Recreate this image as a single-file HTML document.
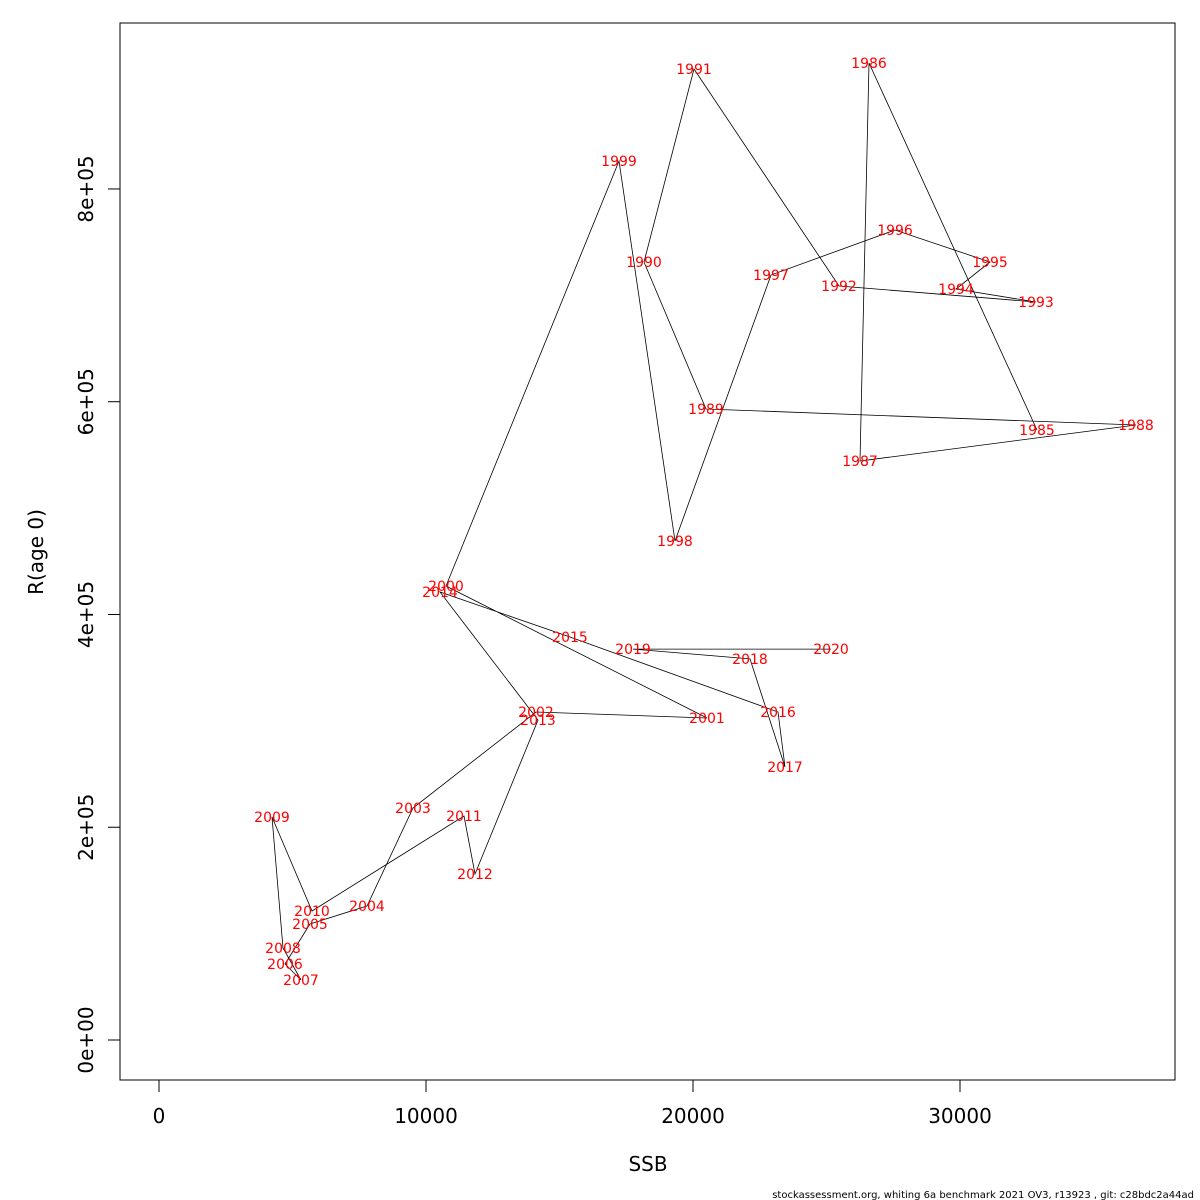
<!DOCTYPE html>
<html><head><meta charset="utf-8"><style>
html,body{margin:0;padding:0;background:#fff;}
svg{display:block;font-family:"DejaVu Sans","Liberation Sans",sans-serif;}
</style></head><body>
<svg id="chart" width="1200" height="1200">
<rect x="120" y="23" width="1055" height="1057" fill="none" stroke="#000"/>
<g id="axes"></g>
<g id="path"></g>
<g id="labels"></g>
<text x="648" y="1171" font-size="20" text-anchor="middle">SSB</text>
<text transform="translate(43,552) rotate(-90)" font-size="20" text-anchor="middle">R(age 0)</text>
<text x="1194" y="1198" font-size="10" text-anchor="end">stockassessment.org, whiting  6a  benchmark  2021  OV3, r13923 , git: c28bdc2a44ad</text>
</svg>
<script>
const years = [1985,1986,1987,1988,1989,1990,1991,1992,1993,1994,1995,1996,1997,1998,1999,2000,2001,2002,2003,2004,2005,2006,2007,2008,2009,2010,2011,2012,2013,2014,2015,2016,2017,2018,2019,2020];
const ssb = [32884,26592,26255,36592,20487,18165,20037,25468,32846,29850,31124,27566,22921,19326,17228,10749,20524,14120,9513,7790,5655,4719,5318,4644,4232,5730,11423,11835,14195,10524,15393,23184,23446,22135,17753,25169];
const recruits = [573400,918400,544300,578100,593200,731300,912800,708800,693700,706000,731300,761400,719100,469100,826300,426800,302700,308300,218100,126000,109000,71400,56400,86500,209600,121300,210600,156000,300800,421100,378800,308300,256600,358200,367500,367500];
const xTicks = [0,10000,20000,30000];
const yTicks = [0,200000,400000,600000,800000];
const yTickLabels = ["0e+00","2e+05","4e+05","6e+05","8e+05"];

const NS="http://www.w3.org/2000/svg";
function X(v){return 159+v*0.0267;}
function Y(v){return 1040-v*0.0010638;}
function mk(tag,attrs,parent){const e=document.createElementNS(NS,tag);for(const k in attrs)e.setAttribute(k,attrs[k]);parent.appendChild(e);return e;}
const axes=document.getElementById('axes');
const xl=mk('line',{x1:X(xTicks[0]),x2:X(xTicks[xTicks.length-1]),y1:1080,y2:1080,stroke:'#000'},axes);


xTicks.forEach(t=>{
  const l=mk('line',{x1:X(t),x2:X(t),y1:1080,y2:1092,stroke:'#000'},axes);
  
  
  const s=mk('text',{x:X(t),y:1123,'font-size':20,'text-anchor':'middle'},axes);s.textContent=t;
  
  
});
const yl=mk('line',{x1:120,x2:120,y1:Y(yTicks[0]),y2:Y(yTicks[yTicks.length-1]),stroke:'#000'},axes);


yTicks.forEach((t,i)=>{
  const l=mk('line',{x1:108,x2:120,y1:Y(t),y2:Y(t),stroke:'#000'},axes);
  
  
  const s=mk('text',{transform:`translate(93,${Y(t)}) rotate(-90)`,'font-size':20,'text-anchor':'middle'},axes);s.textContent=yTickLabels[i];
  
  
});
const pts=ssb.map((v,i)=>X(v).toFixed(1)+','+Y(recruits[i]).toFixed(1)).join(' ');
const pl=mk('polyline',{points:pts,fill:'none',stroke:'#000','stroke-width':0.8},document.getElementById('path'));


const lab=document.getElementById('labels');
years.forEach((yr,i)=>{
  const t=mk('text',{x:X(ssb[i]),y:Y(recruits[i])+5,'font-size':14,fill:'#ff0000','text-anchor':'middle'},lab);
  t.textContent=yr;
  
  
});
</script>
</body></html>
